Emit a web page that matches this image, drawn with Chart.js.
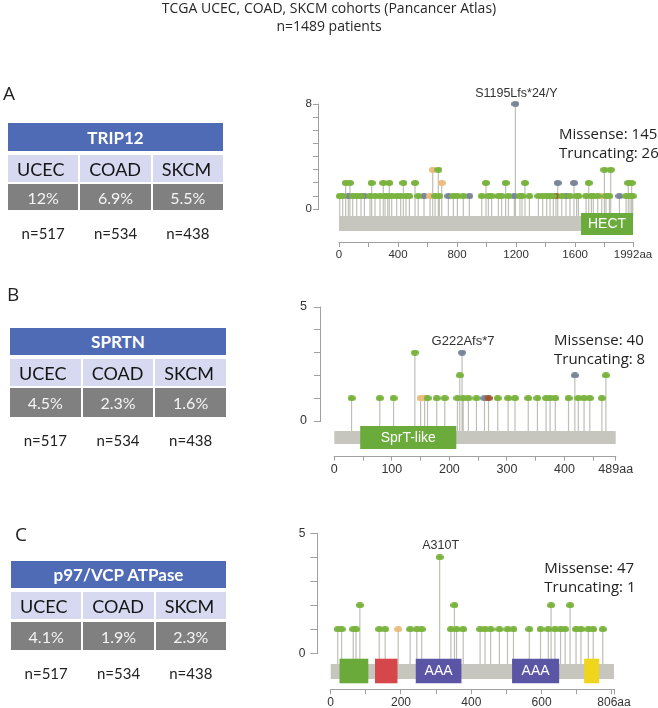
<!DOCTYPE html>
<html><head><meta charset="utf-8">
<script src="https://cdn.jsdelivr.net/npm/chart.js@4.4.0/dist/chart.umd.min.js"></script>
<style>
html,body{margin:0;padding:0;background:#fff;}
body{width:658px;height:708px;position:relative;overflow:hidden;}
canvas{position:absolute;left:0;top:0;}
.title{position:absolute;left:0;width:658px;text-align:center;font-family:'Open Sans',sans-serif;font-size:14px;color:#262626;line-height:18px;white-space:nowrap;z-index:5;}
.letter{position:absolute;font-family:'Open Sans',sans-serif;font-size:19px;color:#222;line-height:19px;z-index:5;}
.cell{position:absolute;box-sizing:border-box;font-family:Lato,sans-serif;display:flex;align-items:center;white-space:nowrap;z-index:5;}
.ntext{position:absolute;font-family:Lato,sans-serif;font-size:15px;line-height:18px;color:#222;text-align:center;z-index:5;}
.counts{position:absolute;font-family:'Open Sans',sans-serif;font-size:15px;color:#222;line-height:19.3px;white-space:nowrap;z-index:5;}
</style></head><body>
<div class="title" style="top:-1.5px">TCGA UCEC, COAD, SKCM cohorts (Pancancer Atlas)<br>n=1489 patients</div>
<canvas id="cA" width="658" height="708"></canvas>
<canvas id="cB" width="658" height="708"></canvas>
<canvas id="cC" width="658" height="708"></canvas>
<script>
// ---------------- DATA ----------------
const panelLetters = ['A', 'B', 'C'];
const genes = ['TRIP12', 'SPRTN', 'p97/VCP ATPase'];
const cohorts = ['UCEC', 'COAD', 'SKCM'];
const cohortN = [517, 534, 438];
const freqTRIP12 = [12, 6.9, 5.5];
const freqSPRTN = [4.5, 2.3, 1.6];
const freqVCP = [4.1, 1.9, 2.3];
const missenseCounts = [145, 40, 47];
const truncatingCounts = [26, 8, 1];

// mutation types: m = missense, t = truncating, i = inframe, o = other
const trip12Pos = [5,25,63,93,120,149,172,210,244,278,312,330,357,391,418,454,477,537,576,617,651,680,741,775,802,842,883,967,1012,1034,1080,1102,1148,1188,1226,1240,1290,1351,1380,1407,1430,1452,1470,1509,1538,1565,1610,1622,1674,1710,1723,1753,1780,1809,1832,1900,1945,1972,1990,
  45,74,221,300,341,436,515,696,996,1129,1260,1482,1592,1692,1960,1983,
  635,673,1798,1841,
  1195];
const trip12Count = [1,1,1,1,1,1,1,1,1,1,1,1,1,1,1,1,1,1,1,1,1,1,1,1,1,1,1,1,1,1,1,1,1,1,1,1,1,1,1,1,1,1,1,1,1,1,1,1,1,1,1,1,1,1,1,1,1,1,1,
  2,2,2,2,2,2,2,2,2,2,2,2,2,2,2,2,
  3,3,3,3,
  8];
const trip12Type = ['m','m','t','m','m','m','t','m','m','m','m','m','m','m','m','m','m','m','t','i','m','m','t','m','m','m','t','m','m','m','m','m','m','t','m','m','m','m','m','m','m','m','o','m','t','m','m','m','m','m','m','m','i','m','m','t','m','m','m',
  'm','m','m','m','m','m','m','i','m','m','m','t','t','m','m','m',
  'i','m','m','m',
  't'];
const trip12Domains = [[1640, 1992]];
const trip12DomainNames = ['HECT'];
const trip12Length = 1992;
const trip12Ticks = [0,200,400,600,800,1000,1200,1400,1600,1800,1992];
const trip12TickLabels = ['0','','400','','800','','1200','','1600','','1992aa'];
const trip12YTicks = [0,1,2,3,4,5,6,7,8];
const trip12YLabels = ['0','','','','','','','','8'];
const trip12Hot = [1195, 'S1195Lfs*24/Y'];

const sprtnPos = [30,79,103,150,157,162,178,192,214,224,233,247,261,268,284,302,314,337,353,368,375,384,407,424,434,444,465,
  218,418,472,
  140,222];
const sprtnCount = [1,1,1,1,1,1,1,1,1,1,1,1,1,1,1,1,1,1,1,1,1,1,1,1,1,1,1,
  2,2,2,
  3,3];
const sprtnType = ['m','m','m','i','i','m','m','m','m','m','m','m','t','o','m','m','m','m','m','m','m','m','m','m','m','m','m',
  'm','t','m',
  'm','t'];
const sprtnDomains = [[45, 212]];
const sprtnDomainNames = ['SprT-like'];
const sprtnLength = 489;
const sprtnTicks = [0,50,100,150,200,250,300,350,400,450,489];
const sprtnTickLabels = ['0','','100','','200','','300','','400','','489aa'];
const sprtnYTicks = [0,1,2,3,4,5];
const sprtnYLabels = ['0','','','','','5'];
const sprtnHot = [222, 'G222Afs*7'];

const vcpPos = [20,31,64,72,138,155,192,226,245,259,342,358,377,425,439,455,480,503,520,565,597,619,638,654,667,698,712,733,747,774,
  83,352,627,681,
  310];
const vcpCount = [1,1,1,1,1,1,1,1,1,1,1,1,1,1,1,1,1,1,1,1,1,1,1,1,1,1,1,1,1,1,
  2,2,2,2,
  4];
const vcpType = ['m','m','m','m','m','m','i','m','m','m','m','m','m','m','m','m','m','m','m','m','m','m','m','m','m','m','m','m','m','m',
  'm','m','m','m',
  'm'];
const vcpDomains = [[25,107],[126,190],[242,372],[516,650],[721,764]];
const vcpDomainNames = ['', '', 'AAA', 'AAA', ''];
const vcpLength = 806;
const vcpTicks = [0,100,200,300,400,500,600,700,800,806];
const vcpTickLabels = ['0','','200','','400','','600','','','806aa'];
const vcpYTicks = [0,1,2,3,4,5];
const vcpYLabels = ['0','','','','','5'];
const vcpHot = [310, 'A310T'];

// ---------------- STYLE / LAYOUT ----------------
const typeColors = {m:'#7ab33e', t:'#7b8598', i:'#ebbb80', o:'#a0552a'};
const vcpDomainColors = ['#6aaa3a','#d5474a','#5a55a5','#5a55a5','#efd51c'];
const greenDomain = ['#6aab3b'];

const tableBoxes = [
  {x:8, w:215, h:[123,151], r2:[155,182], r3:[184,210], nBase:239.3, lx:3, lcap:87},
  {x:10, w:216, h:[328,355], r2:[359,386], r3:[388,417], nBase:446, lx:7, lcap:288},
  {x:11, w:215, h:[561,588], r2:[592,619], r3:[622,650], nBase:679, lx:15, lcap:528}
];
const countsBoxes = [
  {x:559, base:139},
  {x:554, base:345},
  {x:544.3, base:573.3}
];
const panelLayouts = [
  {axisX:319, x0:339, xL:633, yTop:104, yZero:209.3, xAxisY:242, bar:[216,231], dom:[213,235], yTickLen:6, yTickPad:1, hotGap:10, tickFont:11.5, hotFont:12.5},
  {axisX:321, x0:334.3, xL:615.7, yTop:307, yZero:421, xAxisY:455.7, bar:[431,444], dom:[426,449], yTickLen:7, yTickPad:7, hotGap:11, tickFont:12.5, hotFont:13},
  {axisX:318.3, x0:330.7, xL:614, yTop:533.3, yZero:653.3, xAxisY:689.3, bar:[664,679], dom:[658.7,683.3], yTickLen:8, yTickPad:5, hotGap:12, tickFont:12, hotFont:12.5}
];

// ---------------- TABLES (HTML) ----------------
const freqs = [freqTRIP12, freqSPRTN, freqVCP];
function addDiv(cls, style, text){
  const d = document.createElement('div'); d.className = cls; Object.assign(d.style, style); d.textContent = text; document.body.appendChild(d); return d;
}
tableBoxes.forEach((b, p) => {
  addDiv('letter', {left:b.lx+'px', top:(b.lcap - 19*0.174)+'px'}, panelLetters[p]);
  addDiv('cell', {left:b.x+'px', top:b.h[0]+'px', width:b.w+'px', height:(b.h[1]-b.h[0])+'px', background:'#4f6bb5', color:'#fff', fontWeight:'700', fontSize:'17px', justifyContent:'center'}, genes[p]);
  const gap = 2, cw = (b.w - 2*gap)/3;
  cohorts.forEach((c, j) => {
    const x = b.x + j*(cw+gap);
    addDiv('cell', {left:x+'px', top:b.r2[0]+'px', width:cw+'px', height:(b.r2[1]-b.r2[0])+'px', background:'#d6d9ef', color:'#151515', fontSize:'18px', paddingLeft:'9px'}, c);
    addDiv('cell', {left:x+'px', top:b.r3[0]+'px', width:cw+'px', height:(b.r3[1]-b.r3[0])+'px', background:'#808080', color:'#f4f4f4', fontSize:'16px', justifyContent:'center'}, freqs[p][j] + '%');
    addDiv('ntext', {left:x+'px', width:cw+'px', top:(b.nBase - 0.987*15)+'px'}, 'n=' + cohortN[j]);
  });
  const cb = countsBoxes[p];
  const off = (19.3 - 15*1.362)/2 + 15*1.069;
  const d = addDiv('counts', {left:cb.x+'px', top:(cb.base - off)+'px'}, '');
  d.innerHTML = 'Missense: ' + missenseCounts[p] + '<br>Truncating: ' + truncatingCounts[p];
});

// ---------------- CHARTS ----------------
Chart.defaults.font.family = "'Liberation Sans', Arial, sans-serif";
Chart.defaults.color = '#333';

function ellipseImg(color){
  const c = document.createElement('canvas'); c.width = 8; c.height = 6;
  const g = c.getContext('2d'); g.fillStyle = color; g.beginPath();
  g.ellipse(4, 3, 4, 3, 0, 0, Math.PI*2); g.fill(); return c;
}

function lollipop(id, P, L, pos, cnt, typ, doms, domNames, domColors, ticks, tickLabels, yTicks, yLabels, hot){
  const ymax = yTicks[yTicks.length-1];
  const ppu = (P.yZero - P.yTop) / ymax;
  const val = px => (P.yZero - px) / ppu;
  const ymin = val(P.xAxisY);
  const ppa = (P.xL - P.x0) / L;
  const rightPx = P.xL + 6;
  const xmin = -(P.x0 - P.axisX) / ppa;
  const xmax = L + 6 / ppa;
  const barC = val((P.bar[0] + P.bar[1]) / 2), barW = P.bar[1] - P.bar[0];
  const domC = val((P.dom[0] + P.dom[1]) / 2), domW = P.dom[1] - P.dom[0];
  const stemBase = val(P.bar[0]);

  const datasets = [];
  ['m','i','o','t'].forEach(k => {
    const d = [];
    pos.forEach((x, i) => { if (typ[i] === k) d.push({x: x, y: cnt[i]}); });
    if (d.length) datasets.push({type:'scatter', data:d, pointStyle:ellipseImg(typeColors[k]), pointRadius:3, order:0, clip:false});
  });
  const stems = [];
  pos.forEach((x, i) => { stems.push({x:x, y:stemBase}, {x:x, y:cnt[i]}, {x:x, y:null}); });
  datasets.push({type:'line', data:stems, borderColor:'#bfbfb7', borderWidth:1.2, pointRadius:0, spanGaps:false, order:5, clip:false, tension:0});
  doms.forEach((dm, i) => {
    datasets.push({type:'line', data:[{x:dm[0], y:domC},{x:dm[1], y:domC}], borderColor:domColors[i], borderWidth:domW, borderCapStyle:'butt', pointRadius:0, order:3, clip:false});
  });
  datasets.push({type:'line', data:[{x:0, y:barC},{x:L, y:barC}], borderColor:'#c6c6be', borderWidth:barW, borderCapStyle:'butt', pointRadius:0, order:6, clip:false});

  const deco = {
    id:'deco'+id,
    afterDraw(chart){
      const ctx = chart.ctx, xs = chart.scales.x, ys = chart.scales.y, a = chart.chartArea;
      ctx.save();
      ctx.strokeStyle = '#a0a0a0'; ctx.lineWidth = 1;
      const ax = Math.round(a.left) - 0.5;
      ctx.beginPath(); ctx.moveTo(ax, ys.getPixelForValue(0) + 0.5); ctx.lineTo(ax, ys.getPixelForValue(ymax) - 0.5); ctx.stroke();
      const by = Math.round(a.bottom) + 0.5;
      ctx.beginPath(); ctx.moveTo(xs.getPixelForValue(0) - 0.5, by); ctx.lineTo(xs.getPixelForValue(L) + 0.5, by); ctx.stroke();
      ctx.fillStyle = '#fff'; ctx.font = "14px 'Liberation Sans', Arial, sans-serif"; ctx.textAlign = 'center'; ctx.textBaseline = 'middle';
      doms.forEach((dm, i) => { if (domNames[i]) ctx.fillText(domNames[i], xs.getPixelForValue((dm[0]+dm[1])/2), ys.getPixelForValue(domC) + 0.5); });
      let hc = 0; pos.forEach((x, i) => { if (x === hot[0]) hc = Math.max(hc, cnt[i]); });
      ctx.fillStyle = '#333'; ctx.font = P.hotFont + "px 'Liberation Sans', Arial, sans-serif";
      ctx.fillText(hot[1], xs.getPixelForValue(hot[0]) + 1, ys.getPixelForValue(hc) - P.hotGap);
      ctx.restore();
    }
  };

  return new Chart(document.getElementById(id), {
    type:'scatter',
    data:{datasets:datasets},
    options:{
      responsive:false, animation:false, events:[], devicePixelRatio:1,
      layout:{padding:{left:P.axisX - 30, top:P.yTop, right:658 - rightPx, bottom:708 - P.xAxisY - 22}},
      plugins:{legend:{display:false}, tooltip:{enabled:false}},
      scales:{
        x:{type:'linear', min:xmin, max:xmax,
           afterBuildTicks: s => { s.ticks = ticks.map(v => ({value:v})); },
           afterFit: s => { s.height = 22; },
           ticks:{autoSkip:false, maxRotation:0, minRotation:0, padding:1, color:'#333', font:{size:P.tickFont}, callback:(v, i) => tickLabels[i]},
           grid:{display:true, drawOnChartArea:false, drawTicks:true, tickLength:5, color:'#a0a0a0'},
           border:{display:false}},
        y:{type:'linear', min:ymin, max:ymax,
           afterBuildTicks: s => { s.ticks = yTicks.map(v => ({value:v})); },
           afterFit: s => { s.width = 30; },
           ticks:{autoSkip:false, padding:P.yTickPad, color:'#333', font:{size:P.tickFont}, callback:(v, i) => yLabels[i]},
           grid:{display:true, drawOnChartArea:false, drawTicks:true, tickLength:P.yTickLen, color:'#a0a0a0'},
           border:{display:false}}
      }
    },
    plugins:[deco]
  });
}

lollipop('cA', panelLayouts[0], trip12Length, trip12Pos, trip12Count, trip12Type, trip12Domains, trip12DomainNames, greenDomain, trip12Ticks, trip12TickLabels, trip12YTicks, trip12YLabels, trip12Hot);
lollipop('cB', panelLayouts[1], sprtnLength, sprtnPos, sprtnCount, sprtnType, sprtnDomains, sprtnDomainNames, greenDomain, sprtnTicks, sprtnTickLabels, sprtnYTicks, sprtnYLabels, sprtnHot);
lollipop('cC', panelLayouts[2], vcpLength, vcpPos, vcpCount, vcpType, vcpDomains, vcpDomainNames, vcpDomainColors, vcpTicks, vcpTickLabels, vcpYTicks, vcpYLabels, vcpHot);
</script>
</body></html>
